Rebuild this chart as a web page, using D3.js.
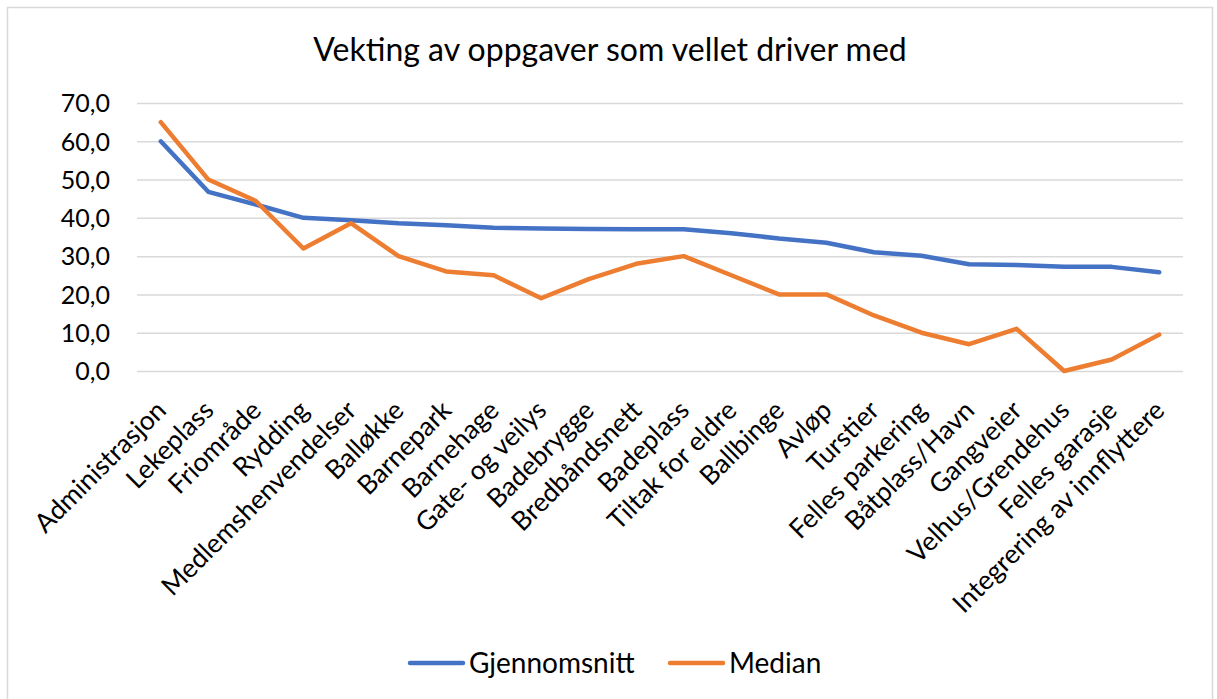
<!DOCTYPE html>
<html lang="no">
<head>
<meta charset="UTF-8">
<title>Vekting av oppgaver</title>
<script src="https://cdn.jsdelivr.net/npm/d3@7"></script>
<style>
  body { margin: 0; background: #fff; }
  text { font-family: Lato, "Open Sans", sans-serif; fill: #000; }
</style>
</head>
<body>
<svg id="chart"></svg>
<script>
const categories = ["Administrasjon", "Lekeplass", "Friområde", "Rydding", "Medlemshenvendelser",
  "Balløkke", "Barnepark", "Barnehage", "Gate- og veilys", "Badebrygge", "Bredbåndsnett",
  "Badeplass", "Tiltak for eldre", "Ballbinge", "Avløp", "Turstier", "Felles parkering",
  "Båtplass/Havn", "Gangveier", "Velhus/Grendehus", "Felles garasje", "Integrering av innflyttere"];
const gjennomsnitt = [60.0, 46.8, 43.5, 40.0, 39.4, 38.6, 38.1, 37.4, 37.2, 37.1, 37.0,
  37.0, 36.0, 34.6, 33.5, 31.0, 30.1, 27.9, 27.7, 27.2, 27.2, 25.8];
const median = [65.0, 50.0, 44.4, 32.0, 38.6, 30.0, 26.0, 25.0, 19.0, 24.0, 28.0,
  30.0, 25.0, 20.0, 20.0, 14.5, 10.0, 7.0, 11.0, 0.0, 3.0, 9.5];
const yTicks = [0, 10, 20, 30, 40, 50, 60, 70];
const seriesNames = ["Gjennomsnitt", "Median"];
const colors = ["#4472C4", "#ED7D31"];

const W = 1217, H = 699;
const svg = d3.select("#chart").attr("width", W).attr("height", H);

// ramme rundt diagrammet
svg.append("rect").attr("x", 7.5).attr("y", 7.5).attr("width", 1205).attr("height", 700)
  .attr("fill", "#fff").attr("stroke", "#d9d9d9").attr("stroke-width", 1.5);

svg.append("text").attr("x", 610).attr("y", 61).attr("text-anchor", "middle")
  .style("font-size", "32px").text("Vekting av oppgaver som vellet driver med");

const x = d3.scaleBand().domain(categories).range([137, 1183]);
const y = d3.scaleLinear().domain([0, 70]).range([371, 103]);
const fmt = v => d3.format(".1f")(v).replace(".", ",");

// rutenett + y-akse
const yAxis = svg.append("g").attr("transform", "translate(137,0)")
  .call(d3.axisLeft(y).tickValues(yTicks).tickFormat(fmt).tickSize(-1046).tickPadding(27));
yAxis.select(".domain").remove();
yAxis.selectAll(".tick line").attr("stroke", "#d9d9d9").attr("stroke-width", 1.5);
yAxis.selectAll(".tick text").style("font-size", "25px").attr("dy", "0.35em");

// x-etiketter
svg.append("g").selectAll("text").data(categories).join("text")
  .attr("transform", d => `translate(${x(d) + x.bandwidth() / 2 + 7},${412}) rotate(-45)`)
  .attr("text-anchor", "end")
  .style("font-size", "26.5px")
  .text(d => d);

const line = d3.line().x((v, i) => x(categories[i]) + x.bandwidth() / 2).y(v => y(v));
[gjennomsnitt, median].forEach((s, k) => {
  svg.append("path").datum(s).attr("d", line)
    .attr("fill", "none").attr("stroke", colors[k]).attr("stroke-width", 4.5)
    .attr("stroke-linejoin", "round").attr("stroke-linecap", "round");
});

// legende
const legX = [410, 670];
seriesNames.forEach((n, k) => {
  const g = svg.append("g").attr("transform", `translate(${legX[k]},663)`);
  g.append("line").attr("x1", 0).attr("x2", 53).attr("stroke", colors[k])
    .attr("stroke-width", 4.5).attr("stroke-linecap", "round");
  g.append("text").attr("x", 59).attr("dy", "0.35em").style("font-size", "28px").text(n);
});
</script>
</body>
</html>
